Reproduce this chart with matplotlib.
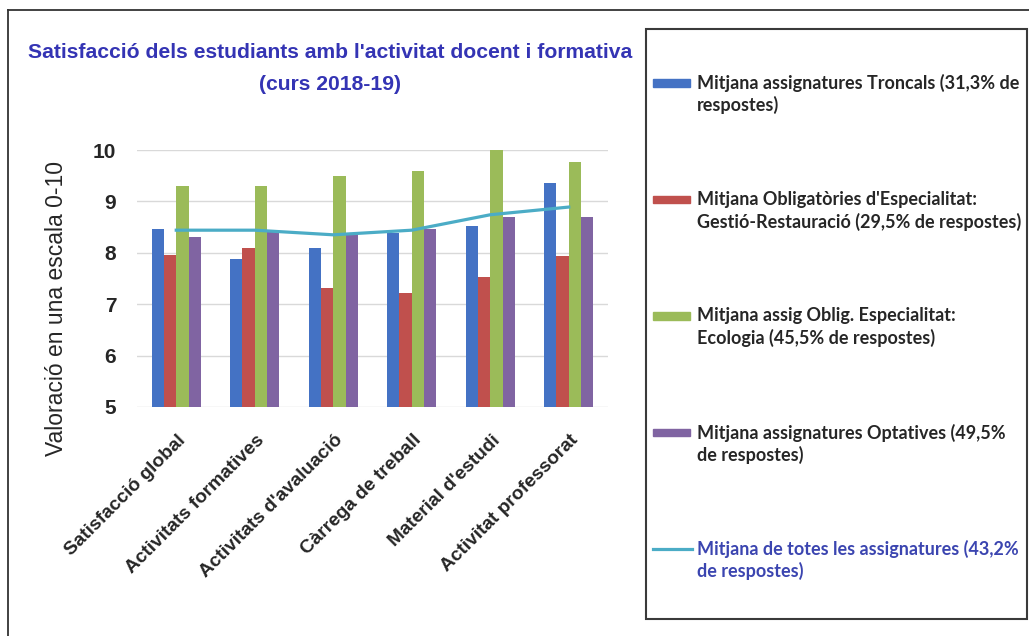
import matplotlib
matplotlib.use("Agg")
import matplotlib.pyplot as plt
import numpy as np
from matplotlib import font_manager as fm
from matplotlib.patches import Rectangle
from matplotlib.lines import Line2D
from matplotlib.transforms import ScaledTranslation

# data
categories = ["Satisfacció global", "Activitats formatives", "Activitats d'avaluació",
              "Càrrega de treball", "Material d'estudi", "Activitat professorat"]
troncals = [8.46, 7.87, 8.10, 8.39, 8.53, 9.35]
gestio = [7.96, 8.09, 7.31, 7.21, 7.52, 7.93]
ecologia = [9.30, 9.30, 9.50, 9.60, 10.0, 9.77]
optatives = [8.30, 8.41, 8.38, 8.46, 8.70, 8.69]
mitjana = [8.44, 8.44, 8.35, 8.44, 8.74, 8.89]

yticks = [5, 6, 7, 8, 9, 10]
legend_lines = [
    ("Mitjana assignatures Troncals (31,3% de", "respostes)"),
    ("Mitjana Obligatòries d'Especialitat:", "Gestió-Restauració (29,5% de respostes)"),
    ("Mitjana assig Oblig. Especialitat:", "Ecologia (45,5% de respostes)"),
    ("Mitjana assignatures Optatives (49,5%", "de respostes)"),
    ("Mitjana de totes les assignatures (43,2%", "de respostes)"),
]
bar_colors = ["#4472C4", "#C0504D", "#9BBB59", "#8064A2"]
line_color = "#4BACC6"

names = {f.name for f in fm.fontManager.ttflist}
SANS = "Liberation Sans"
LEG = "Lato" if "Lato" in names else "DejaVu Sans"

W, H = 1029, 636
fig = plt.figure(figsize=(W / 100, H / 100), dpi=100)


def fx(px):
    return px / W


def fy(py):
    return 1 - py / H


ax = fig.add_axes([fx(137), fy(407), (608 - 137) / W, (407 - 150) / H])

x = np.arange(len(categories))
w = 0.157
series = [troncals, gestio, ecologia, optatives]
for i, (vals, col) in enumerate(zip(series, bar_colors)):
    ax.bar(x + (i - 1.5) * w, vals, width=w, color=col, zorder=2)
ax.plot(x, mitjana, color=line_color, lw=2.3, zorder=3)

ax.set_xlim(-0.5, len(categories) - 0.5)
ax.set_ylim(5, 10)
ax.set_yticks(yticks)
ax.grid(axis="y", color="#d9d9d9", lw=1, zorder=0)
for s in ax.spines.values():
    s.set_visible(False)

ax.tick_params(axis="y", length=0, pad=15, labelsize=15, labelcolor="#262626")
ax.tick_params(axis="x", length=0, pad=22)
for lab in ax.get_yticklabels():
    lab.set_fontfamily(SANS)
    lab.set_fontweight("bold")

ax.set_xticks(x)
ax.set_xticklabels(categories, rotation=45, ha="right", va="center", rotation_mode="anchor",
                   fontsize=13.8, fontweight="bold", family=SANS, color="#262626")
shift = ScaledTranslation(0.07, 0, fig.dpi_scale_trans)
for lab in ax.get_xticklabels():
    lab.set_transform(lab.get_transform() + shift)

ax.set_ylabel("Valoració en una escala 0-10", family=SANS, fontsize=16.5,
              color="#262626", va="center")
ax.yaxis.set_label_coords((57 - 137) / 471, (407 - 308) / 257)

# title, two lines
title_color = "#3434B4"
tsize = 15.2
fig.text(fx(330), fy(53), "Satisfacció dels estudiants amb l'activitat docent i formativa",
         ha="center", va="center", fontsize=tsize, fontweight="bold", family=SANS, color=title_color)
fig.text(fx(330), fy(85), "(curs 2018-19)", ha="center", va="center", fontsize=tsize,
         fontweight="bold", family=SANS, color=title_color)

# outer border (left and top only visible)
fig.add_artist(Line2D([fx(8), fx(8)], [0, fy(10)], color="#333333", lw=1.3))
fig.add_artist(Line2D([fx(8), 1], [fy(10), fy(10)], color="#333333", lw=1.3))

# legend box drawn by hand
fig.add_artist(Rectangle((fx(646), fy(619)), (1027 - 646) / W, (619 - 29) / H,
                         transform=fig.transFigure, fill=False, edgecolor="#3a3a3a", lw=1.5))
leg_colors = bar_colors + [line_color]
for i, (l1, l2) in enumerate(legend_lines):
    yc = 83 + 116.5 * i
    if i < 4:
        fig.add_artist(Rectangle((fx(653), fy(yc + 3.5)), 37 / W, 7 / H,
                                 transform=fig.transFigure, color=leg_colors[i]))
    else:
        fig.add_artist(Line2D([fx(653), fx(692)], [fy(yc), fy(yc)], color=line_color, lw=2.3))
    tcol = "#3b45b0" if i == 4 else "#262626"
    fig.text(fx(697), fy(yc), l1, va="center", ha="left", fontsize=13, fontweight="bold",
             family=LEG, color=tcol)
    fig.text(fx(697), fy(yc + 22), l2, va="center", ha="left", fontsize=13, fontweight="bold",
             family=LEG, color=tcol)

fig.savefig("out.png", dpi=100)
